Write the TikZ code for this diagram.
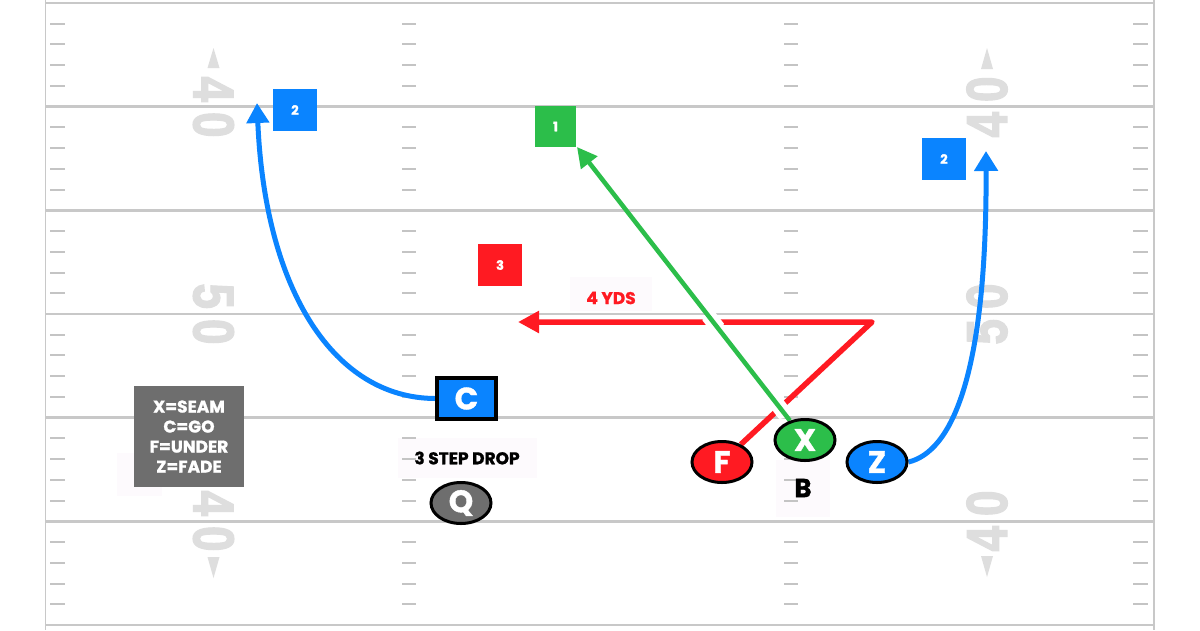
\documentclass[tikz,border=0pt]{standalone}
\usepackage{fontspec}
\setmainfont{Poppins}[BoldFeatures={FakeBold=1.2}]
\newfontfamily\yardfont{Liberation Sans}[BoldFeatures={FakeBold=2.5}]
\usetikzlibrary{arrows.meta,shapes.geometric,intersections}
\definecolor{fieldline}{RGB}{200,200,200}
\definecolor{hashgray}{RGB}{196,196,196}
\definecolor{numgray}{RGB}{222,222,222}
\definecolor{pgreen}{RGB}{44,190,74}
\definecolor{pred}{RGB}{255,26,34}
\definecolor{pblue}{RGB}{10,132,255}
\definecolor{pgray}{RGB}{110,110,110}
\definecolor{faint}{RGB}{253,250,253}
\pgfdeclarelayer{field}
\pgfdeclarelayer{routes}
\pgfsetlayers{field,routes,main}
\tikzset{
  yardno/.style={text=numgray, font=\yardfont\bfseries\fontsize{46}{46}\selectfont, yscale=1.25, inner sep=0pt},
  player/.style={ellipse, draw=black, line width=3pt, fill=#1, text=white, minimum width=60pt, minimum height=41pt, inner sep=0pt, font=\bfseries\fontsize{31}{31}\selectfont},
  numbox/.style={rectangle, fill=#1, text=white, minimum width=44pt, minimum height=42pt, inner sep=0pt, font=\bfseries\fontsize{13}{13}\selectfont},
  keybox/.style={rectangle, fill=pgray, text=white, minimum width=110pt, minimum height=101pt, inner sep=0pt, align=center, font=\bfseries\fontsize{17}{20}\selectfont},
  plainlabel/.style={inner sep=0pt, font=\bfseries\fontsize{17}{17}\selectfont},
  yardline/.style={fieldline, line width=2.5pt},
  hashline/.style={hashgray, line width=2pt},
  route/.style={#1, line width=5pt, line join=round, line cap=butt},
}
\begin{document}
\begin{tikzpicture}[x=1pt,y=-1pt]
\useasboundingbox (0,0) rectangle (1200,630);
\begin{pgfonlayer}{field}
\fill[white] (0,0) rectangle (1200,630);
% faint label backgrounds
\fill[faint] (570,277) rectangle (652,311);
\fill[faint] (398,438) rectangle (537,478);
\fill[faint] (117,453) rectangle (162,496);
\fill[faint] (776,460) rectangle (830,517);
% side borders
\draw[fieldline, line width=1.5pt] (45.5,0) -- (45.5,630);
\draw[fieldline, line width=1.5pt] (1154,0) -- (1154,630);
% yard lines
\foreach \k in {0,...,6} {
  \draw[yardline] (45.5,{3+103.67*\k}) -- (1154,{3+103.67*\k});
}
% hash marks
\foreach \k in {0,...,5} {
  \foreach \j in {1,...,4} {
    \foreach \xa/\xb in {50/65,402/416,784/798,1133/1148} {
      \draw[hashline] (\xa,{3+103.67*\k+20.73*\j}) -- (\xb,{3+103.67*\k+20.73*\j});
    }
  }
}
% yard numbers
\node[rotate=-90, yardno] (n40a) at (213.5,107) {4\kern10pt0};
\node[rotate=-90, yardno] (n50a) at (213.5,314) {5\kern10pt0};
\node[rotate=-90, yardno] (n40b) at (213.5,521) {4\kern10pt0};
\node[rotate=90, yardno] (n40c) at (987,107) {4\kern10pt0};
\node[rotate=90, yardno] (n50b) at (987,314) {5\kern10pt0};
\node[rotate=90, yardno] (n40d) at (987,521) {4\kern10pt0};
\fill[numgray] (213.5,48) -- (207.5,68) -- (219.5,68) -- cycle;
\fill[numgray] (987,48) -- (981,69) -- (993,69) -- cycle;
\fill[numgray] (213.5,578) -- (207.5,557) -- (219.5,557) -- cycle;
\fill[numgray] (987,577) -- (981,556) -- (993,556) -- cycle;
\end{pgfonlayer}

% labels and players
\node[keybox] (key) at (189,436.5) {X=SEAM\\C=GO\\F=UNDER\\Z=FADE};
\node[numbox=pblue] (b2l) at (295,110) {2};
\node[numbox=pblue] (b2r) at (944,159) {2};
\node[numbox=pgreen, minimum width=41pt, minimum height=41pt] (b1) at (555.5,126.5) {1};
\node[numbox=pred] (b3) at (500,265) {3};
\node[plainlabel, text=pred] (yds) at (611,298) {4 YDS};
\node[plainlabel] (drop) at (467,458) {3 STEP DROP};
\node[inner sep=0pt, font=\bfseries\fontsize{26}{26}\selectfont] (B) at (803,488) {B};
\node[rectangle, draw=black, line width=4pt, fill=pblue, text=white, minimum width=59pt, minimum height=41pt, inner sep=0pt, font=\bfseries\fontsize{31}{31}\selectfont] (C) at (466.5,398.5) {C};
\node[player=pgray] (Q) at (461,503) {Q};
\node[player=pred] (F) at (722,462) {F};
\node[player=pgreen] (X) at (805,440) {X};
\node[player=pblue] (Z) at (877,462) {Z};

\coordinate (rc) at (872,322);
\coordinate (rtip) at (518,322);
\coordinate (gtip) at (577,147);
\coordinate (ztip) at (986,151);
\coordinate (ctip) at (257,103);

\begin{pgfonlayer}{routes}
\draw[route=pred, line width=5.5pt, name path=redp, -{Triangle[length=21pt,width=21pt]}] (F) -- (rc) -- (rtip);
\path[name path=greenp] (X) -- (gtip);
\path[name intersections={of=redp and greenp, name=cr}];
\begin{scope}
  \clip (cr-1) circle (11pt) (cr-2) circle (11pt);
  \draw[white, line width=15pt] (X) -- (gtip);
\end{scope}
\draw[route=pgreen, line width=4.5pt, -{Triangle[length=20pt,width=20pt]}] (X) -- (gtip);
\draw[route=pblue, -{Triangle[length=20pt,width=23pt]}] (Z.east) .. controls (950,452) and (987,380) .. (ztip);
\draw[route=pblue, -{Triangle[length=20pt,width=22pt]}] (C.west) .. controls (335,398) and (265,292) .. (ctip);
\end{pgfonlayer}
\end{tikzpicture}
\end{document}
